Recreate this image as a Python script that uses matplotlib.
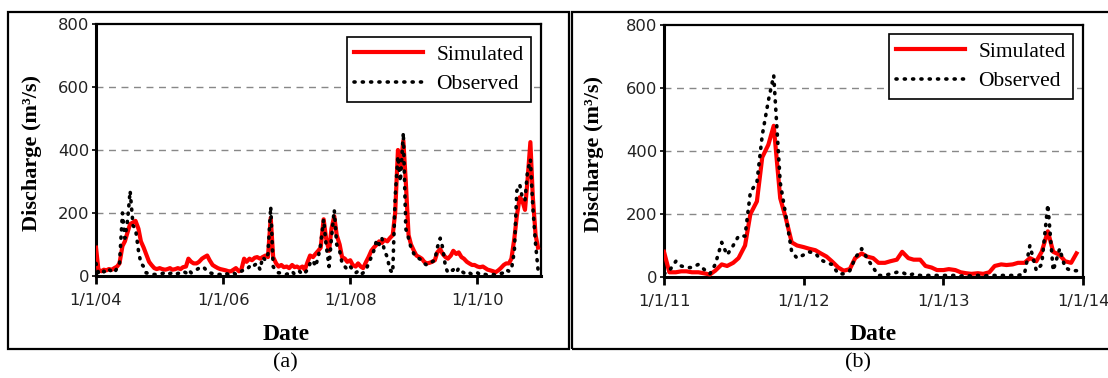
import matplotlib
matplotlib.use('Agg')
import matplotlib.pyplot as plt
import matplotlib.patches as patches
import pandas as pd

# semi-monthly readings taken off the figure
dates_a = pd.date_range('2004-01-01', periods=168, freq='SMS')
dates_b = pd.date_range('2011-01-01', periods=72, freq='SMS')

sim_a = [
    90, 20, 15, 20, 18, 22, 20, 25, 30, 40, 95, 110, 140, 165, 170, 175, 150, 110, 90, 70, 45, 35, 25, 22,
    25, 22, 20, 22, 25, 20, 22, 25, 22, 28, 30, 55, 45, 40, 40, 45, 55, 60, 65, 50, 35, 30, 25, 22,
    20, 18, 15, 15, 20, 25, 15, 20, 55, 45, 55, 50, 58, 60, 55, 60, 65, 60, 185, 60, 40, 30, 35, 28,
    30, 25, 35, 28, 30, 25, 30, 20, 45, 65, 60, 70, 80, 90, 180, 120, 80, 150, 190, 130, 100, 60, 55, 45,
    50, 35, 30, 40, 30, 25, 45, 60, 80, 90, 100, 110, 105, 115, 110, 120, 130, 200, 400, 340, 430, 300, 130, 100,
    80, 65, 60, 55, 45, 40, 42, 45, 50, 75, 85, 70, 60, 55, 65, 80, 70, 75, 60, 55, 45, 40, 35, 35,
    30, 28, 30, 25, 20, 18, 15, 12, 18, 25, 35, 40, 40, 55, 120, 190, 250, 240, 210, 300, 425, 250, 130, 90,
]
obs_a = [
    40, 10, 5, 15, 10, 20, 15, 10, 25, 40, 200, 120, 180, 270, 160, 150, 80, 40, 30, 10, 8, 5, 5, 5,
    5, 8, 10, 5, 8, 10, 5, 8, 10, 15, 10, 20, 10, 15, 20, 25, 20, 25, 15, 10, 8, 5, 5, 5,
    10, 8, 5, 5, 10, 5, 10, 15, 20, 20, 30, 25, 35, 40, 20, 60, 50, 70, 220, 30, 15, 10, 10, 8,
    5, 10, 15, 5, 10, 15, 5, 10, 20, 40, 50, 30, 60, 100, 180, 100, 30, 120, 210, 100, 80, 40, 30, 20,
    30, 20, 10, 15, 5, 10, 20, 40, 60, 80, 115, 100, 120, 80, 60, 20, 10, 250, 380, 300, 455, 150, 120, 90,
    70, 60, 55, 50, 40, 35, 40, 45, 50, 90, 120, 90, 30, 10, 15, 20, 10, 25, 15, 10, 5, 10, 5, 5,
    10, 5, 8, 5, 3, 5, 5, 3, 5, 8, 10, 20, 15, 20, 80, 270, 290, 250, 240, 330, 370, 220, 100, 20,
]
sim_b = [
    80, 15, 15, 18, 18, 15, 15, 12, 8, 20, 40, 35, 45, 60, 100, 200, 240, 380, 420, 480, 250, 190, 110, 100,
    95, 90, 85, 75, 65, 50, 30, 20, 25, 60, 75, 65, 60, 45, 45, 50, 55, 80, 60, 55, 55, 35, 30, 22,
    22, 25, 22, 15, 12, 10, 12, 10, 15, 35, 40, 38, 40, 45, 45, 60, 50, 80, 145, 80, 70, 50, 45, 75,
]
obs_b = [
    10, 20, 50, 35, 30, 30, 40, 25, 10, 40, 110, 70, 100, 130, 130, 270, 300, 450, 560, 640, 300, 200, 80, 60,
    70, 80, 75, 55, 45, 40, 10, 10, 20, 60, 90, 60, 30, 5, 5, 10, 15, 15, 5, 10, 5, 5, 5, 5,
    5, 5, 5, 3, 5, 3, 5, 3, 5, 5, 5, 5, 5, 5, 10, 100, 20, 40, 230, 20, 90, 30, 20, 20,
]

ticks_a = pd.to_datetime(['2004-01-01', '2006-01-01', '2008-01-01', '2010-01-01'])
labels_a = ['1/1/04', '1/1/06', '1/1/08', '1/1/10']
ticks_b = pd.to_datetime(['2011-01-01', '2012-01-01', '2013-01-01', '2014-01-01'])
labels_b = ['1/1/11', '1/1/12', '1/1/13', '1/1/14']
yticks = [0, 200, 400, 600, 800]

serif = 'Liberation Serif'

fig = plt.figure(figsize=(11.08, 3.78), dpi=100)

# outer frames of the two panels
for x0, x1 in [(8, 569), (572, 1112)]:
    fig.patches.append(patches.Rectangle((x0 / 1108, 1 - 349 / 378), (x1 - x0) / 1108, 337 / 378,
                                         transform=fig.transFigure, fill=False, lw=1.6, ec='black'))


def panel(rect, dates, sim, obs, ticks, labels, xlim, leg_anchor, ylab_x, date_x, date_y):
    ax = fig.add_axes(rect)
    ax.plot(dates, sim, color='#ff0000', lw=3, label='Simulated', zorder=3)
    ax.plot(dates, obs, color='black', lw=2.6, linestyle=(0, (0.3, 2.0)),
            dash_capstyle='round', label='Observed', zorder=4)
    ax.set_xlim(pd.Timestamp(xlim[0]), pd.Timestamp(xlim[1]))
    ax.set_ylim(0, 800)
    ax.set_yticks(yticks)
    ax.set_xticks(ticks)
    ax.set_xticklabels(labels)
    for y in yticks[1:-1]:
        ax.axhline(y, color='#888888', lw=1, dashes=(5, 4), zorder=1)
    ax.tick_params(axis='both', labelsize=11.8, labelcolor='#222222')
    ax.tick_params(axis='x', direction='out', length=6, width=2, pad=6)
    ax.tick_params(axis='y', direction='out', length=3, width=1.2, pad=2)
    for s in ['left', 'bottom']:
        ax.spines[s].set_linewidth(2.2)
    for s in ['top', 'right']:
        ax.spines[s].set_linewidth(1.6)
    ax.set_ylabel('Discharge (m³/s)', fontfamily=serif, fontweight='bold', fontsize=16)
    ax.yaxis.set_label_coords(ylab_x, 0.49)
    ax.set_xlabel('Date', fontfamily=serif, fontweight='bold', fontsize=17)
    ax.xaxis.set_label_coords(date_x, date_y)
    leg = ax.legend(loc='upper right', bbox_to_anchor=leg_anchor, borderaxespad=0,
                    prop={'family': serif, 'size': 15.5}, fancybox=False, framealpha=1,
                    edgecolor='black', handlelength=3.2, labelspacing=0.45, borderpad=0.35,
                    handletextpad=0.6)
    leg.get_frame().set_linewidth(1.2)
    return ax


panel([96 / 1108, 1 - 276 / 378, 445 / 1108, 252 / 378], dates_a, sim_a, obs_a, ticks_a, labels_a,
      ('2004-01-01', '2011-01-01'), (0.9775, 0.948), -0.121, 0.427, -0.19)
panel([664 / 1108, 1 - 277 / 378, 419 / 1108, 252 / 378], dates_b, sim_b, obs_b, ticks_b, labels_b,
      ('2011-01-01', '2014-01-01'), (0.976, 0.964), -0.143, 0.5, -0.187)

fig.text(285 / 1108, 1 - 363 / 378, '(a)', ha='center', va='center', fontfamily=serif, fontsize=16)
fig.text(858 / 1108, 1 - 363 / 378, '(b)', ha='center', va='center', fontfamily=serif, fontsize=16)

fig.savefig('out.png', dpi=100)
